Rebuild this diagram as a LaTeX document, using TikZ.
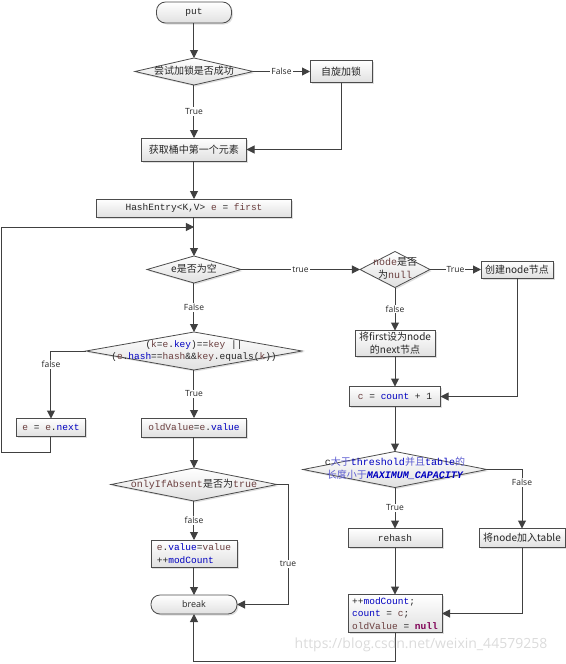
\documentclass[tikz,border=0pt]{standalone}
\usepackage{fontspec}
\setsansfont{Open Sans}
\setmonofont{Liberation Mono}
\newfontfamily\cjk{Noto Sans CJK SC}
\usepackage{tikz}
\usetikzlibrary{arrows.meta,positioning,calc,shapes.geometric,shadows}

\definecolor{linegray}{HTML}{404040}
\definecolor{varbrown}{HTML}{6A3E3E}
\definecolor{fldblue}{HTML}{0000C0}
\definecolor{kwpurple}{HTML}{7F0055}
\definecolor{cjkblue}{HTML}{5A5AD0}
\newcommand{\cvar}[1]{{\ttfamily\color{varbrown}#1}}
\newcommand{\cfld}[1]{{\ttfamily\color{fldblue}#1}}
\newcommand{\ckw}[1]{{\ttfamily\bfseries\color{kwpurple}#1}}
\newcommand{\dtxt}[1]{\makebox[0pt]{\begin{tabular}{@{}c@{}}#1\end{tabular}}}

\begin{document}
\begin{tikzpicture}[>={Triangle[length=8pt,width=8pt]},node distance=30pt,
  flow/.style={->,draw=linegray,line width=1pt},
  shade/.style={draw=black!70,line width=0.8pt,outer sep=0pt,top color=white,bottom color=black!12,
    drop shadow={shadow xshift=1.5pt,shadow yshift=-1.5pt,opacity=0.25},text=black!85},
  box/.style={rectangle,shade,inner sep=2pt},
  dec/.style={diamond,aspect=1,inner sep=0pt,shade},
  term/.style={rectangle,rounded corners=9pt,shade},
  lbl/.style={fill=white,inner sep=1pt,text=black!85,font=\sffamily\fontsize{8.5}{10}\selectfont},
  cjkfont/.style={font=\cjk\fontsize{10}{13}\selectfont},
  codefont/.style={font=\ttfamily\fontsize{9.5}{12.5}\selectfont}]
    \useasboundingbox (-194pt,12.5pt) rectangle (371pt,-651.5pt);
    \node[term,codefont,minimum width=75pt,minimum height=21pt](put){put};
    \node[dec,cjkfont,minimum width=118pt,minimum height=27pt,below=35pt of put](try){\dtxt{尝试加锁是否成功}};
    \node[box,cjkfont,minimum width=62pt,minimum height=22pt,right=57pt of try](spin){自旋加锁};
    \node[box,cjkfont,minimum width=105pt,minimum height=23pt,below=53pt of try](get){获取桶中第一个元素};
    \node[box,codefont,minimum width=195pt,minimum height=18pt,below=38pt of get](hash){HashEntry<K,V> \cvar{e} = \cvar{first}};
    \node[dec,cjkfont,minimum width=94pt,minimum height=27pt,below=39pt of hash](empty){\dtxt{e是否为空}};
    \node[dec,codefont,minimum width=216pt,minimum height=38pt,below=49pt of empty](match){\dtxt{(\cvar{k}=\cvar{e}.\cfld{key})==\cvar{key} ||\\(\cvar{e}.\cfld{hash}==\cvar{hash}\&\&\cvar{key}.equals(\cvar{k}))}};
    \node[box,codefont,minimum width=105pt,minimum height=19pt,below=48pt of match](old){\cvar{oldValue}=\cvar{e}.\cfld{value}};
    \node[box,codefont,minimum width=69pt,minimum height=18pt,left=56pt of old](next){\cvar{e} = \cvar{e}.\cfld{next}};
    \node[dec,cjkfont,minimum width=166pt,minimum height=33pt,below=31pt of old](only){\dtxt{\cvar{onlyIfAbsent}是否为\cvar{true}}};
    \node[box,codefont,align=left,inner ysep=1pt,minimum width=86pt,minimum height=27pt,below=39pt of only](setv){\cvar{e}.\cfld{value}=\cvar{value}\\++\cfld{modCount}};
    \node[term,font=\sffamily\fontsize{9}{11}\selectfont,minimum width=86pt,minimum height=19pt,below=28pt of setv](brk){break};
    \node[dec,cjkfont,minimum width=70pt,minimum height=36pt,right=119pt of empty](isnull){\dtxt{\cvar{node}是否\\为\cvar{null}}};
    \node[box,cjkfont,minimum width=72pt,minimum height=17pt,inner sep=1pt,right=51pt of isnull](create){创建node节点};
    \node[box,cjkfont,align=center,minimum width=80pt,minimum height=26pt,inner sep=0pt,below=43pt of isnull](setnext){将first设为node\\的next节点};
    \node[box,codefont,minimum width=91pt,minimum height=20pt,below=30pt of setnext](cnt){\cvar{c} = \cfld{count} + 1};
    \node[dec,cjkfont,minimum width=184pt,minimum height=36pt,below=45pt of cnt](cmp){\dtxt{\textcolor{cjkblue}{{\ttfamily\color{black!85}c}大于\cfld{threshold}并且\cfld{table}的}\\\textcolor{cjkblue}{长度小于{\ttfamily\bfseries\itshape\color{fldblue}MAXIMUM\_CAPACITY}}}};
    \node[box,codefont,minimum width=94pt,minimum height=19pt,below=41pt of cmp](rehash){rehash};
    \node[box,cjkfont,minimum width=86pt,minimum height=19pt,inner sep=1pt,right=37pt of rehash](addtab){将node加入table};
    \node[box,codefont,align=left,inner ysep=0.5pt,minimum width=94pt,minimum height=38pt,below=47pt of rehash](fin){++\cfld{modCount};\\\cfld{count} = \cvar{c};\\\cvar{oldValue} = \ckw{null}};
    \coordinate (j1) at ($(hash.south)+(0,-10pt)$);

    \draw[flow] (put) -- (try);
    \draw[flow] (try) -- node[lbl]{True} (get);
    \draw[flow] (try) -- node[lbl]{False} (spin);
    \draw[flow] (spin.south) |- (get.east);
    \draw[flow] (get) -- (hash);
    \draw[flow] (hash) -- (empty);
    \draw[flow] (next.south) -- ++(0,-16pt) -| ($(j1)+(-192pt,0)$) -- (j1);
    \draw[flow] (empty) -- node[lbl]{False} (match);
    \draw[flow] (empty) -- node[lbl]{true} (isnull);
    \draw[flow] (match.west) -| node[lbl,pos=0.6]{false} (next.north);
    \draw[flow] (match) -- node[lbl]{True} (old);
    \draw[flow] (old) -- (only);
    \draw[flow] (only) -- node[lbl]{false} (setv);
    \draw[flow] (only.east) -- ++(11pt,0) |- node[lbl,pos=0.33]{true} (brk.east);
    \draw[flow] (setv) -- (brk);
    \draw[flow] (isnull) -- node[lbl]{True} (create);
    \draw[flow] (isnull) -- node[lbl]{false} (setnext);
    \draw[flow] (setnext) -- (cnt);
    \draw[flow] (create.south) |- (cnt.east);
    \draw[flow] (cnt) -- (cmp);
    \draw[flow] (cmp) -- node[lbl]{True} (rehash);
    \draw[flow] (cmp.east) -| node[lbl,pos=0.61]{False} (addtab.north);
    \draw[flow] (rehash) -- (fin);
    \draw[flow] (addtab.south) |- (fin.east);
    \draw[flow] (fin.south) -- ++(0,-29pt) -| (brk.south);

    \node[font=\sffamily\fontsize{14}{16}\selectfont,text=black!14] (wm) at ($(fin.south)+(26pt,-12pt)$) {https://blog.csdn.net/weixin\_44579258};
\end{tikzpicture}
\end{document}
